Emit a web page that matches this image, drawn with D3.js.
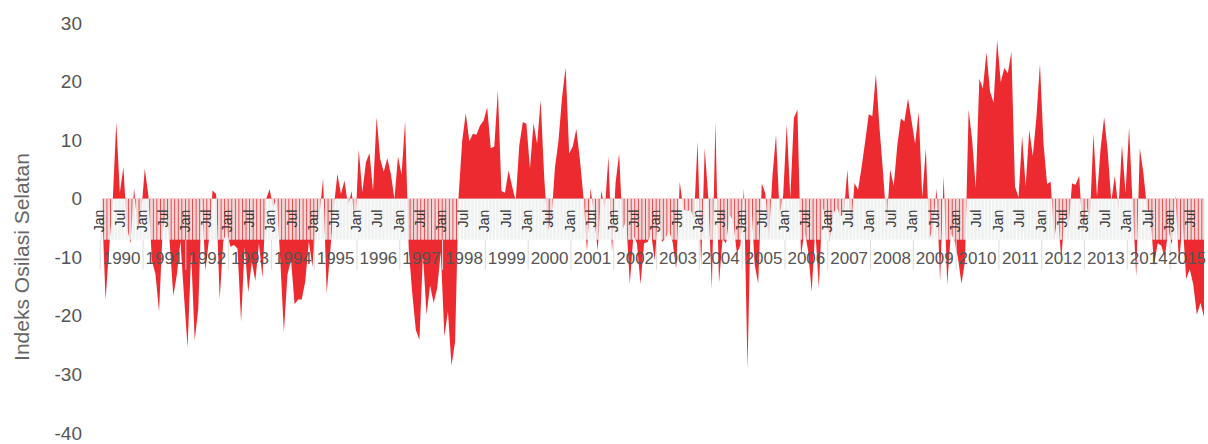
<!DOCTYPE html>
<html>
<head>
<meta charset="utf-8">
<script src="https://cdn.jsdelivr.net/npm/d3@7"></script>
<style>
  html, body { margin: 0; padding: 0; background: #ffffff; }
  svg { display: block; font-family: "Liberation Sans", Arial, sans-serif; }
</style>
</head>
<body>
<svg id="chart" width="1208" height="444"></svg>
<script>
// ---- data ----
const startYear = 1990;
const monthNames = ["Jan","Feb","Mar","Apr","May","Jun","Jul","Aug","Sep","Oct","Nov","Dec"];
const labelledMonths = ["Jan", "Jul"];
// Southern Oscillation Index, monthly, Jan 1990 - Oct 2015
const soiValues = [
  -1.1, -17.3, -8.5, -0.5, 13.1, 1.0, 5.4, -5.0, -7.6, 1.8, -5.3, -2.4,
  5.1, 0.6, -10.6, -12.9, -19.3, -5.5, -1.7, -7.6, -16.6, -12.9, -7.3, -16.7,
  -25.4, -9.3, -24.2, -18.7, 0.5, -12.3, -6.9, 1.4, 0.8, -17.2, -7.3, -5.5,
  -8.2, -7.9, -8.5, -21.1, -8.2, -16.0, -10.8, -14.0, -7.6, -13.5, -0.1, 1.6,
  -1.5, 0.2, -10.6, -22.8, -13.0, -10.4, -18.0, -17.2, -17.2, -14.1, -7.3, -11.6,
  -4.0, -2.7, 3.5, -16.2, -9.0, -1.5, 4.2, 0.8, 3.1, -1.3, 1.3, -5.3,
  8.4, 1.1, 6.2, 7.8, 1.3, 13.9, 6.8, 4.6, 6.9, 4.2, -0.1, 7.2,
  4.1, 13.3, -8.5, -16.2, -22.4, -24.1, -9.5, -19.8, -14.8, -17.8, -15.2, -9.1,
  -23.5, -19.2, -28.5, -24.4, 0.5, 9.9, 14.6, 9.8, 11.1, 10.9, 12.5, 13.3,
  15.6, 8.6, 8.9, 18.5, 1.3, 1.0, 4.8, 2.1, -0.4, 9.1, 13.1, 12.8,
  5.1, 12.9, 9.4, 16.8, 3.6, -5.5, -3.7, 5.3, 9.9, 17.3, 22.4, 7.7,
  8.9, 11.9, 6.7, 0.3, -9.0, 1.8, -3.0, -8.9, 1.4, -1.9, 7.2, -9.1,
  2.7, 7.7, -5.2, -3.8, -14.5, -6.3, -7.6, -14.6, -7.6, -7.4, -6.0, -10.6,
  -2.0, -7.4, -6.8, -5.5, -7.4, -12.0, 2.9, -1.8, -2.2, -1.9, -3.4, 9.8,
  -11.6, 8.6, 0.2, -15.4, 13.1, -14.4, -6.9, -7.6, -2.8, -3.7, -9.3, -8.0,
  1.8, -29.1, 0.2, -11.2, -14.5, 2.6, 0.9, -6.9, 3.9, 10.9, -2.7, 0.6,
  12.7, 0.1, 13.8, 15.2, -9.8, -5.5, -8.9, -15.9, -5.1, -15.3, -1.4, -3.0,
  -7.3, -2.7, -1.4, -3.0, -2.7, 5.0, -5.4, 2.7, 1.5, 5.4, 9.8, 14.4,
  14.1, 21.3, 12.2, 4.5, -4.3, 5.0, 2.2, 9.1, 13.7, 13.2, 17.1, 13.3,
  9.4, 14.8, 0.2, 8.6, -6.9, -5.0, 1.8, -14.1, 3.9, -14.7, -6.0, -7.0,
  -10.1, -14.5, -10.6, 15.2, 10.0, 1.8, 20.5, 18.8, 25.0, 18.3, 16.4, 27.1,
  19.9, 22.3, 21.4, 25.1, 2.1, 0.2, 10.7, 2.1, 11.7, 7.3, 13.8, 23.0,
  9.4, 2.5, 2.9, -7.1, -2.7, -10.4, -1.7, -5.0, 2.6, 2.4, 3.9, -6.0,
  -1.1, -3.6, 11.1, 0.3, 8.5, 13.9, 8.1, -0.5, 3.9, -1.9, 9.2, 0.9,
  12.2, -1.3, -13.3, 8.6, 4.4, -1.5, -3.0, -11.4, -7.6, -8.0, -10.0, -5.4,
  -7.8, 0.6, -11.2, -3.8, -13.7, -12.0, -14.7, -19.8, -17.8, -20.2
];
const yTicks = [30, 20, 10, 0, -10, -20, -30, -40];
const yTitle = "Indeks Osilasi Selatan";

// ---- build table ----
const data = soiValues.map((v, i) => ({
  i,
  year: startYear + Math.floor(i / 12),
  month: monthNames[i % 12],
  value: v
}));
const years = Array.from(new Set(data.map(d => d.year)));

// ---- scales ----
const W = 1208;
const svg = d3.select("#chart");
const x = d3.scaleLinear().domain([0, soiValues.length - 1]).range([102, 1204]);
const y = d3.scaleLinear().domain([-40, 30]).range([433, 23]);
const step = x(1) - x(0);
const y0 = y(0);

const red = "#ec2a2f";

// ---- area ----
const area = d3.area()
  .x(d => x(d.i))
  .y0(y0)
  .y1(d => y(d.value));

svg.append("path")
  .datum(data)
  .attr("d", area)
  .attr("fill", red);

// ---- category label band (month cells) ----
const bandH = 41;
const band = svg.append("g");
band.selectAll("rect")
  .data(data)
  .join("rect")
  .attr("x", d => x(d.i) - step / 2)
  .attr("y", y0)
  .attr("width", step - 0.8)
  .attr("height", bandH)
  .attr("fill", "#eef0f0")
  .attr("fill-opacity", 0.88);

// year separators below the band
svg.append("g").selectAll("line")
  .data(years)
  .join("line")
  .attr("x1", yr => x((yr - startYear) * 12) - step / 2)
  .attr("x2", yr => x((yr - startYear) * 12) - step / 2)
  .attr("y1", y0 + bandH)
  .attr("y2", y0 + bandH + 30)
  .attr("stroke", "#dcdcdc")
  .attr("stroke-width", 1);

// month labels (Jan / Jul)
svg.append("g").selectAll("text")
  .data(data.filter(d => labelledMonths.includes(d.month)))
  .join("text")
  .attr("transform", d => `translate(${x(d.i) + 2},${y0 + 11}) rotate(-90)`)
  .attr("text-anchor", "end")
  .attr("font-size", 14)
  .attr("fill", "#333333")
  .text(d => d.month);

// year labels (last one kept inside the picture)
svg.append("g").selectAll("text")
  .data(years)
  .join("text")
  .attr("x", yr => Math.min(x((yr - startYear) * 12 + 5.5), W - 21))
  .attr("y", y0 + 65)
  .attr("text-anchor", "middle")
  .attr("font-size", 17)
  .attr("fill", "#555555")
  .text(yr => yr);

// ---- y axis ----
const yAxis = d3.axisLeft(y).tickValues(yTicks).tickSize(0).tickPadding(0)
  .tickFormat(d => String(d));
const gy = svg.append("g")
  .attr("transform", "translate(82,0)")
  .call(yAxis);
gy.select(".domain").remove();
gy.selectAll("text")
  .attr("font-size", 19)
  .attr("fill", "#555555")
  .attr("font-family", "Liberation Sans, Arial, sans-serif");

// y title
svg.append("text")
  .attr("transform", "translate(22,257) rotate(-90)")
  .attr("dy", "0.35em")
  .attr("text-anchor", "middle")
  .attr("font-size", 21)
  .attr("fill", "#666666")
  .text(yTitle);
</script>
</body>
</html>
